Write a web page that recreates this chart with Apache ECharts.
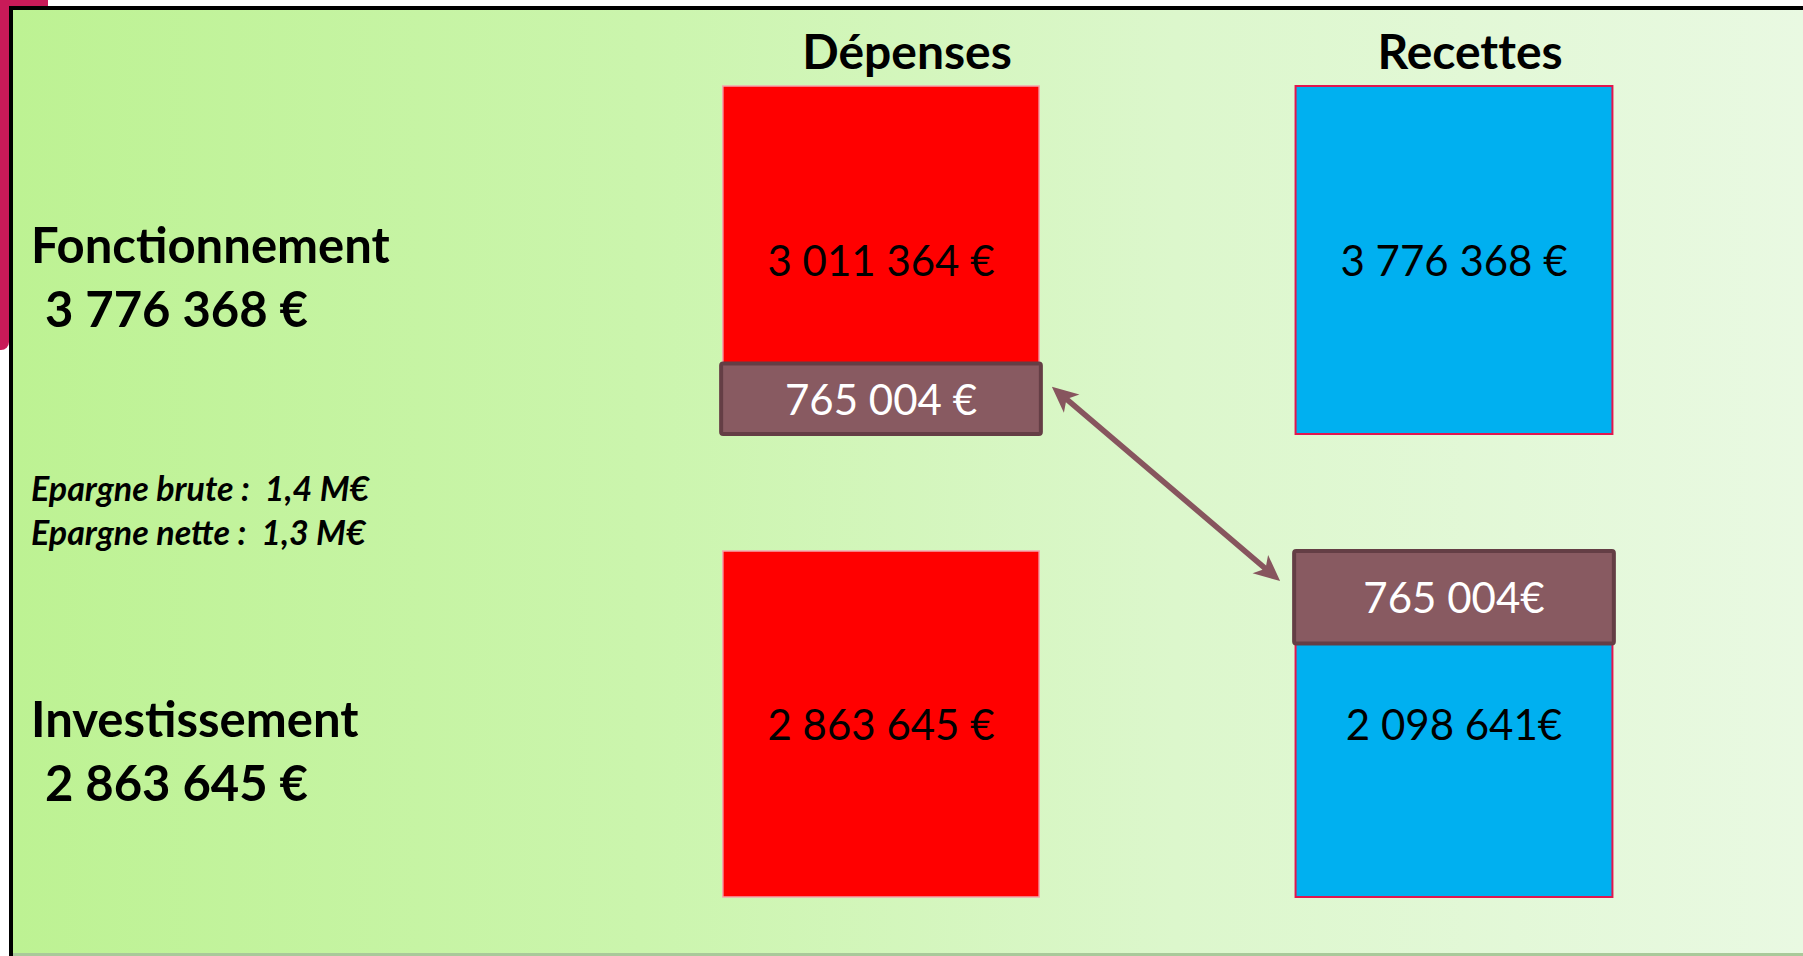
<!DOCTYPE html>
<html>
<head>
<meta charset="utf-8">
<script src="https://cdn.jsdelivr.net/npm/echarts@6/dist/echarts.min.js"></script>
<style>
html,body{margin:0;padding:0;background:#fff;}
#chart{width:1803px;height:956px;}
#chart text{font-variant-ligatures:none;font-feature-settings:"liga" 0;}
</style>
</head>
<body>
<div id="chart"></div>
<script>
// ---- DATA ----
const columns = ['Dépenses', 'Recettes'];
const sectionNames = ['Fonctionnement', 'Investissement'];
const sectionTotals = [3776368, 2863645];
const depenses = [3011364, 2863645];      // red boxes
const recettes = [3776368, 2098641];      // blue boxes
const virement = [765004, 765004];        // transfer (autofinancement) boxes
const depSuffix = [' €', ' €'];
const recSuffix = [' €', '€'];
const virSuffix = [' €', '€'];
const epargneLines = ['Epargne brute :  1,4 M€', 'Epargne nette :  1,3 M€'];

// ---- HELPERS ----
function fmt(v) { return String(v).replace(/\B(?=(\d{3})+(?!\d))/g, ' '); }

const FONT = 'Lato, "Open Sans", sans-serif';
const STYLE = {
  dep: { fill: '#FF0000', stroke: '#F4A6AE', lw: 1.5, wr: 0.552, text: '#000000' },
  rec: { fill: '#00B0F0', stroke: '#E2164E', lw: 2, wr: 0.553, text: '#000000' },
  vir: { fill: '#885A61', stroke: '#643E45', lw: 4, wr: 0.558, text: '#FFFFFF' }
};

function buildSection(i) {
  const items = [];
  if (i === 0) {
    items.push({ value: [0, 0, virement[i]], kind: 'vir', label: fmt(virement[i]) + virSuffix[i], mid: virement[i] / 2 });
    items.push({ value: [0, virement[i], virement[i] + depenses[i]], kind: 'dep', label: fmt(depenses[i]) + depSuffix[i], mid: (virement[i] + depenses[i]) / 2 });
    items.push({ value: [1, 0, recettes[i]], kind: 'rec', label: fmt(recettes[i]) + recSuffix[i], mid: recettes[i] / 2 });
  } else {
    items.push({ value: [0, 0, depenses[i]], kind: 'dep', label: fmt(depenses[i]) + depSuffix[i], mid: depenses[i] / 2 });
    items.push({ value: [1, 0, recettes[i]], kind: 'rec', label: fmt(recettes[i]) + recSuffix[i], mid: (recettes[i] + virement[i]) / 2 });
    items.push({ value: [1, recettes[i], recettes[i] + virement[i]], kind: 'vir', label: fmt(virement[i]) + virSuffix[i], mid: recettes[i] + virement[i] / 2 });
  }
  return items;
}

function makeRender(items) {
  return function (params, api) {
    const it = items[params.dataIndex];
    const st = STYLE[it.kind];
    const cat = api.value(0);
    const p0 = api.coord([cat, api.value(1)]);
    const p1 = api.coord([cat, api.value(2)]);
    const pm = api.coord([cat, it.mid]);
    const band = api.size([1, 0])[0];
    const w = band * st.wr;
    const x = p0[0] - w / 2;
    return {
      type: 'group',
      children: [{
        type: 'rect',
        shape: { x: x, y: p1[1], width: w, height: p0[1] - p1[1], r: it.kind === 'vir' ? 2 : 0 },
        style: { fill: st.fill, stroke: st.stroke, lineWidth: st.lw },
        z2: it.kind === 'vir' ? 10 : 1
      }, {
        type: 'text',
        x: p0[0], y: pm[1],
        style: { text: it.label, fill: st.text, font: '42px ' + FONT, align: 'center', verticalAlign: 'middle' },
        z2: 20
      }]
    };
  };
}

const sec0 = buildSection(0);
const sec1 = buildSection(1);

const chart = echarts.init(document.getElementById('chart'), null, { renderer: 'svg' });

const GRID_LEFT = 594.5, GRID_W = 1146;

const option = {
  animation: false,
  backgroundColor: '#ffffff',
  grid: [
    { left: GRID_LEFT, width: GRID_W, top: 86, height: 348 },
    { left: GRID_LEFT, width: GRID_W, top: 551, height: 346 }
  ],
  xAxis: [
    {
      gridIndex: 0, type: 'category', position: 'top',
      data: [
        { value: columns[0], textStyle: { padding: [0, 0, 0, 52] } },
        { value: columns[1], textStyle: { padding: [0, 0, 0, 32] } }
      ],
      axisLine: { show: false }, axisTick: { show: false }, splitLine: { show: false },
      axisLabel: { color: '#000', fontFamily: FONT, fontWeight: 'bold', fontSize: 48, lineHeight: 48, margin: 12 }
    },
    { gridIndex: 1, type: 'category', data: columns, show: false }
  ],
  yAxis: [
    { gridIndex: 0, type: 'value', min: 0, max: 'dataMax', show: false, splitLine: { show: false } },
    { gridIndex: 1, type: 'value', min: 0, max: 'dataMax', show: false, splitLine: { show: false } }
  ],
  series: [
    {
      type: 'custom', name: sectionNames[0], xAxisIndex: 0, yAxisIndex: 0,
      renderItem: makeRender(sec0),
      encode: { x: 0, y: [1, 2] },
      data: sec0.map(d => d.value)
    },
    {
      type: 'custom', name: sectionNames[1], xAxisIndex: 1, yAxisIndex: 1,
      renderItem: makeRender(sec1),
      encode: { x: 0, y: [1, 2] },
      data: sec1.map(d => d.value)
    }
  ]
};

chart.setOption(option);

// ---- frame, side texts and arrow ----
function arrowPoints(a, b, hw, hl, hh) {
  const dx = b[0] - a[0], dy = b[1] - a[1], L = Math.hypot(dx, dy);
  const ux = dx / L, uy = dy / L, nx = -uy, ny = ux;
  const a1 = [a[0] + ux * hl, a[1] + uy * hl], b1 = [b[0] - ux * hl, b[1] - uy * hl];
  const a2 = [a[0] + ux * hl * 0.8, a[1] + uy * hl * 0.8], b2 = [b[0] - ux * hl * 0.8, b[1] - uy * hl * 0.8];
  return [
    a,
    [a1[0] + nx * hh, a1[1] + ny * hh],
    [a2[0] + nx * hw, a2[1] + ny * hw],
    [b2[0] + nx * hw, b2[1] + ny * hw],
    [b1[0] + nx * hh, b1[1] + ny * hh],
    b,
    [b1[0] - nx * hh, b1[1] - ny * hh],
    [b2[0] - nx * hw, b2[1] - ny * hw],
    [a2[0] - nx * hw, a2[1] - ny * hw],
    [a1[0] - nx * hh, a1[1] - ny * hh]
  ];
}

const band = GRID_W / 2;
const virW = band * STYLE.vir.wr;
const topVirMid = chart.convertToPixel({ gridIndex: 0 }, [columns[0], virement[0] / 2]);
const botVirTop = chart.convertToPixel({ gridIndex: 1 }, [columns[1], recettes[1] + virement[1]]);
const tip1 = [topVirMid[0] + virW / 2 + 11, topVirMid[1] - 12];
const tip2 = [botVirTop[0] - virW / 2 - 14, botVirTop[1] + 30];

const sideBold = { fill: '#000', font: 'bold 49px ' + FONT, verticalAlign: 'middle' };
const sideItal = { fill: '#000', font: 'italic bold 34px ' + FONT, verticalAlign: 'middle' };

chart.setOption({
  graphic: [
    { type: 'rect', z: -30, shape: { x: 9, y: 6, width: 1794, height: 950 }, style: { fill: '#000' }, silent: true },
    { type: 'rect', z: -29, shape: { x: 13, y: 10, width: 1790, height: 944 },
      style: { fill: new echarts.graphic.LinearGradient(0, 0, 1, 0, [
        { offset: 0, color: '#BDF293' },
        { offset: 0.35, color: '#CBF5AD' },
        { offset: 0.65, color: '#DCF7CC' },
        { offset: 1, color: '#E9F9E2' }
      ]) }, silent: true },
    { type: 'rect', z: -29, shape: { x: 13, y: 953, width: 1790, height: 3 }, style: { fill: '#A9C99A' }, silent: true },
    { type: 'rect', z: -28, shape: { x: 0, y: 0, width: 9, height: 350, r: [0, 0, 8, 0] }, style: { fill: '#C81A58' }, silent: true },
    { type: 'rect', z: -28, shape: { x: 0, y: 0, width: 48, height: 6 }, style: { fill: '#C81A58' }, silent: true },
    { type: 'text', x: 31, y: 244, style: Object.assign({ text: sectionNames[0] }, sideBold) },
    { type: 'text', x: 33, y: 308, style: Object.assign({ text: ' ' + fmt(sectionTotals[0]) + ' €' }, sideBold) },
    { type: 'text', x: 31, y: 487, style: Object.assign({ text: epargneLines[0] }, sideItal) },
    { type: 'text', x: 31, y: 531, style: Object.assign({ text: epargneLines[1] }, sideItal) },
    { type: 'text', x: 31, y: 718, style: Object.assign({ text: sectionNames[1] }, sideBold) },
    { type: 'text', x: 33, y: 782, style: Object.assign({ text: ' ' + fmt(sectionTotals[1]) + ' €' }, sideBold) },
    { type: 'polygon', z: 50, shape: { points: arrowPoints(tip1, tip2, 2.8, 26, 12) }, style: { fill: '#87555E' } }
  ]
});
</script>
</body>
</html>
